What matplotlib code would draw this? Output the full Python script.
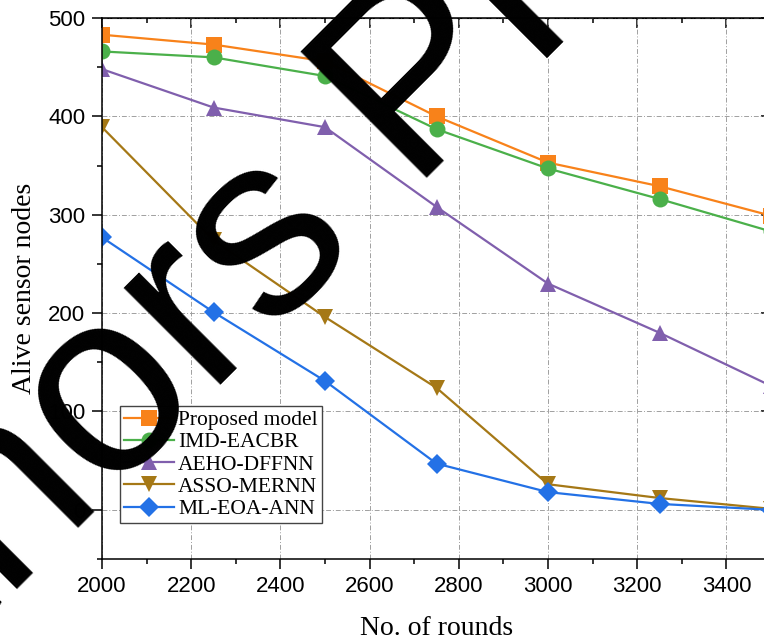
import matplotlib
matplotlib.use("Agg")
import matplotlib.pyplot as plt
from matplotlib.ticker import MultipleLocator

rounds = [2000, 2250, 2500, 2750, 3000, 3250, 3500]
series_names = ["Proposed model", "IMD-EACBR", "AEHO-DFFNN", "ASSO-MERNN", "ML-EOA-ANN"]
proposed = [483, 473, 456, 400, 353, 329, 299]
imd_eacbr = [466, 460, 441, 387, 347, 316, 283]
aeho_dffnn = [448, 409, 389, 308, 230, 180, 126]
asso_mernn = [389, 274, 196, 124, 26, 12, 1]
ml_eoa_ann = [277, 201, 131, 47, 18, 6, 0]
xticks = [2000, 2200, 2400, 2600, 2800, 3000, 3200, 3400]
yticks = [0, 100, 200, 300, 400, 500]
watermark = "Authors Preprint"

colors = ["#F8821A", "#4BB04A", "#805FAD", "#A57816", "#2371E6"]
markers = ["s", "o", "^", "v", "D"]
msizes = [11, 11.5, 12, 12, 10]
values = [proposed, imd_eacbr, aeho_dffnn, asso_mernn, ml_eoa_ann]

W, H = 764, 644
fig = plt.figure(figsize=(W / 100, H / 100), dpi=100)
left, right, top, bottom = 102, 771, 18, 559
ax = fig.add_axes([left / W, (H - bottom) / H, (right - left) / W, (bottom - top) / H])

for name, vals, c, m, ms in zip(series_names, values, colors, markers, msizes):
    ax.plot(rounds, vals, color=c, marker=m, markersize=ms, linewidth=1.6,
            markeredgewidth=0, label=name)

ax.set_xlim(2000, 3500)
ax.set_ylim(-50, 500)
ax.set_xticks(xticks)
ax.set_yticks(yticks)
ax.xaxis.set_minor_locator(MultipleLocator(100))
ax.yaxis.set_minor_locator(MultipleLocator(50))
ax.grid(True, which="major", linestyle=(0, (5, 2, 1, 2)), color="#A0A0A0", linewidth=0.7)

tickfont = "Liberation Sans"
ax.tick_params(which="major", direction="out", length=7, width=1.1, pad=5,
               labelsize=16)
ax.tick_params(which="minor", direction="out", length=3.5, width=1.1)
for lab in ax.get_xticklabels() + ax.get_yticklabels():
    lab.set_fontfamily(tickfont)
for sp in ax.spines.values():
    sp.set_linewidth(1.1)

secx = ax.secondary_xaxis("top")
secx.set_xticks(xticks)
secx.xaxis.set_minor_locator(MultipleLocator(100))
secx.tick_params(which="major", direction="in", length=7, width=1.1, labeltop=False)
secx.tick_params(which="minor", direction="in", length=3.5, width=1.1)
secy = ax.secondary_yaxis("right")
secy.set_yticks(yticks)
secy.yaxis.set_minor_locator(MultipleLocator(50))
secy.tick_params(which="major", direction="in", length=7, width=1.1, labelright=False)
secy.tick_params(which="minor", direction="in", length=3.5, width=1.1)

serif = "Liberation Serif"
ax.set_xlabel("No. of rounds", fontfamily=serif, fontsize=20, labelpad=14)
ax.set_ylabel("Alive sensor nodes", fontfamily=serif, fontsize=20, labelpad=8)

leg = ax.legend(loc="upper left", bbox_to_anchor=(0.027, 0.283), borderaxespad=0,
                prop={"family": serif, "size": 15.5}, numpoints=1,
                handlelength=2.3, handletextpad=0.2, labelspacing=0.1,
                borderpad=0.2, fancybox=False, framealpha=1, edgecolor="#444444")
leg.get_frame().set_linewidth(1.0)

# watermark
ox, oy = -271.5, -233.0
fig.text(ox / W, oy / H, watermark, fontfamily="Liberation Sans", fontsize=187,
         color="black", rotation=45, rotation_mode="anchor", ha="left",
         va="baseline", zorder=100)

fig.savefig("out.png", dpi=100)
